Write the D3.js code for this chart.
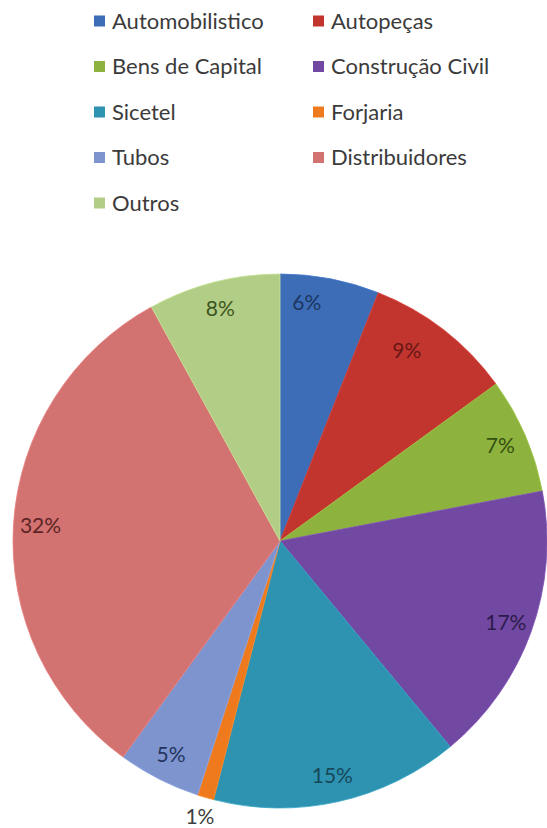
<!DOCTYPE html>
<html>
<head>
<meta charset="utf-8">
<script src="https://cdn.jsdelivr.net/npm/d3@7"></script>
<style>
  html, body { margin: 0; padding: 0; background: #fff; }
  svg { display: block; }
</style>
</head>
<body>
<svg id="chart" width="547" height="828"></svg>
<script>
// Segment shares (%) of sales by market
const categories = ["Automobilistico", "Autopeças", "Bens de Capital", "Construção Civil",
                    "Sicetel", "Forjaria", "Tubos", "Distribuidores", "Outros"];
const shares = [6, 9, 7, 17, 15, 1, 5, 32, 8];
const colors = ["#3c6db6", "#c2352f", "#8db33e", "#7149a3", "#2d93b1",
                "#ee7a1d", "#7d94cf", "#d27271", "#b2cd86"];
const labelColors = ["#1d3663", "#6a1714", "#34500f", "#2c1a4a", "#17485a",
                     "#404040", "#25345f", "#5c2524", "#3d5520"];

// label placement tweaks (degrees of rotation, radius) for crowded top-right labels
const labelNudge = { "Automobilistico": [-4.4, 240], "Autopeças": [-4.2, 229] };

const svg = d3.select("#chart");
const font = "Lato, 'Open Sans', 'DejaVu Sans', sans-serif";

// ---- legend: two columns, five rows
const colX = d3.scaleOrdinal().domain([0, 1]).range([94, 313]);
const rowY = d3.scalePoint().domain(d3.range(5)).range([21, 203]);
const color = d3.scaleOrdinal().domain(categories).range(colors);

const legend = svg.append("g").attr("class", "legend");
const item = legend.selectAll("g.item")
  .data(categories)
  .join("g")
  .attr("class", "item")
  .attr("transform", (d, i) => `translate(${colX(i % 2)},${rowY(Math.floor(i / 2))})`);
item.append("rect")
  .attr("x", 0).attr("y", -5.5)
  .attr("width", 11).attr("height", 11)
  .attr("fill", d => color(d));
item.append("text")
  .attr("x", 18).attr("y", 0)
  .attr("dy", "0.36em")
  .attr("font-family", font)
  .attr("font-size", 22)
  .attr("fill", "#3b3b3b")
  .text(d => d);

// ---- pie
const cx = 280, cy = 541, R = 267;
const pie = d3.pie().sort(null).value(d => d.v);
const arcs = pie(categories.map((c, i) => ({ c, v: shares[i], i })));
const arc = d3.arc().innerRadius(0).outerRadius(R);

const g = svg.append("g").attr("transform", `translate(${cx},${cy})`);

g.selectAll("path.slice")
  .data(arcs)
  .join("path")
  .attr("class", "slice")
  .attr("d", arc)
  .attr("fill", d => color(d.data.c))
  .attr("stroke", d => d3.color(color(d.data.c)).brighter(0.3))
  .attr("stroke-width", 0.8);

// label position: mid-angle, inside near the rim; tiny slices go outside
function labelPos(d) {
  let a = (d.startAngle + d.endAngle) / 2;
  let r = d.data.v < 2 ? 287 : 240;
  const n = labelNudge[d.data.c];
  if (n) { a += n[0] * Math.PI / 180; r = n[1]; }
  return [r * Math.sin(a), -r * Math.cos(a)];
}

g.selectAll("text.pct")
  .data(arcs)
  .join("text")
  .attr("class", "pct")
  .attr("transform", d => `translate(${labelPos(d)})`)
  .attr("text-anchor", "middle")
  .attr("dy", "0.36em")
  .attr("font-family", font)
  .attr("font-size", 21)
  .attr("fill", d => labelColors[d.data.i])
  .text(d => d.data.v + "%");
</script>
</body>
</html>
